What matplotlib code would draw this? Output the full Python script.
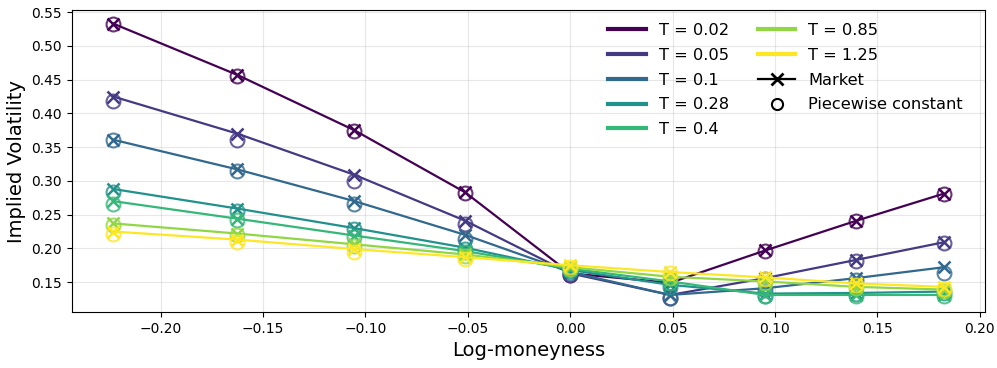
import numpy as np
import matplotlib.pyplot as plt
from matplotlib.lines import Line2D

# log-moneyness ln(K/S) for K = 80..120
strikes = [80, 85, 90, 95, 100, 105, 110, 115, 120]
log_m = np.log(np.array(strikes) / 100.0)

maturities = [0.02, 0.05, 0.1, 0.28, 0.4, 0.85, 1.25]

market_vol = [
    [0.533, 0.457, 0.375, 0.283, 0.163, 0.149, 0.197, 0.241, 0.281],
    [0.425, 0.370, 0.309, 0.241, 0.163, 0.131, 0.156, 0.183, 0.209],
    [0.361, 0.317, 0.270, 0.220, 0.165, 0.131, 0.141, 0.156, 0.172],
    [0.288, 0.259, 0.230, 0.201, 0.168, 0.146, 0.133, 0.134, 0.136],
    [0.270, 0.244, 0.219, 0.196, 0.170, 0.151, 0.131, 0.131, 0.131],
    [0.237, 0.222, 0.206, 0.191, 0.172, 0.158, 0.151, 0.143, 0.139],
    [0.225, 0.213, 0.199, 0.187, 0.175, 0.165, 0.157, 0.148, 0.143],
]

pwc_vol = [
    [0.533, 0.456, 0.374, 0.282, 0.161, 0.148, 0.196, 0.240, 0.280],
    [0.418, 0.360, 0.300, 0.236, 0.161, 0.127, 0.155, 0.182, 0.208],
    [0.360, 0.314, 0.266, 0.214, 0.163, 0.126, 0.139, 0.153, 0.163],
    [0.284, 0.255, 0.228, 0.199, 0.166, 0.143, 0.130, 0.132, 0.134],
    [0.266, 0.242, 0.217, 0.194, 0.168, 0.149, 0.129, 0.129, 0.130],
    [0.235, 0.220, 0.204, 0.189, 0.170, 0.156, 0.149, 0.141, 0.137],
    [0.222, 0.210, 0.195, 0.185, 0.173, 0.164, 0.155, 0.146, 0.140],
]

colors = plt.cm.viridis(np.linspace(0, 1, len(maturities)))

fig, ax = plt.subplots(figsize=(9.97, 3.68), dpi=100)
fig.subplots_adjust(left=0.072, right=0.988, top=0.973, bottom=0.152)

for T, mv, pv, c in zip(maturities, market_vol, pwc_vol, colors):
    ax.plot(log_m, mv, color=c, marker='x', markersize=9, markeredgewidth=1.8,
            linewidth=1.6)
    ax.plot(log_m, pv, linestyle='', marker='o', markersize=10,
            markerfacecolor='none', markeredgecolor=c, markeredgewidth=1.5,
            alpha=0.8)

ax.grid(True, alpha=0.3)
ax.set_xlabel('Log-moneyness', fontsize=14)
ax.set_ylabel('Implied Volatility', fontsize=14)
ax.set_yticks(np.arange(0.15, 0.56, 0.05))

handles = [Line2D([0], [0], color=c, linewidth=3, label=f'T = {T}')
           for T, c in zip(maturities, colors)]
handles.append(Line2D([0], [0], color='k', marker='x', markersize=9,
                      markeredgewidth=2, linewidth=1.6, label='Market'))
handles.append(Line2D([0], [0], color='k', marker='o', linestyle='',
                      markersize=8, markerfacecolor='none', markeredgewidth=1.5,
                      label='Piecewise constant'))
ax.legend(handles=handles, ncol=2, loc='upper right', fontsize=11.7,
          frameon=False, handlelength=2.3, columnspacing=1.8,
          labelspacing=0.6, bbox_to_anchor=(0.992, 1.005))

plt.savefig('out.png')
